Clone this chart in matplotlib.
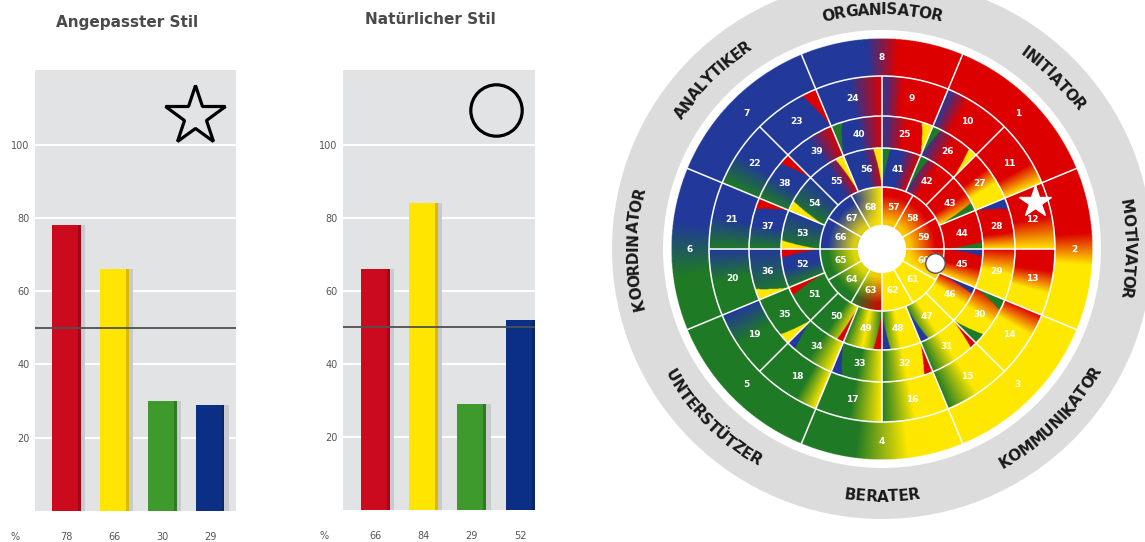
import matplotlib.pyplot as plt
import matplotlib.colors as mcolors
import numpy as np
from matplotlib.patches import Wedge, Circle
from matplotlib.transforms import blended_transform_factory

W, H = 1145, 542

# --- Balkendiagramme ---
bar_colors = ['#cc0a1e', '#ffe500', '#3e9a2c', '#0c2f86']
bar_dark = ['#a0081a', '#d8bb00', '#2f7a22', '#0a2668']
adapted_values = [78, 66, 30, 29]
natural_values = [66, 84, 29, 52]
y_ticks = [20, 40, 60, 80, 100]
mid_line = 50

# --- Insights-Rad ---
wheel_colors = {'R': '#dd0000', 'Y': '#ffe800', 'G': '#1f7a25', 'B': '#22399a'}
ring_radii = [24, 62, 101, 133, 173, 211]
ring_start = [90, 90, 90, 90, 112.5]          # Winkel, an dem das erste Segment beginnt (im Uhrzeigersinn)
inner_labels = list(range(57, 69))
ring4_labels = list(range(41, 57))
ring3_labels = list(range(25, 41))
ring2_labels = list(range(9, 25))
outer_labels = [8, 1, 2, 3, 4, 5, 6, 7]

# Farbverlauf je Segment, im Uhrzeigersinn gelesen
inner_colors = ['R', 'R', 'R', 'RY', 'Y', 'Y', 'RG', 'G', 'G', 'B', 'B', 'BY']
ring4_colors = ['BBR', 'BRR', 'RRY', 'RRR', 'RRY', 'RYY', 'YYG', 'YYG',
                'GYG', 'YGG', 'G', 'GBB', 'GB', 'GB', 'BBR', 'BBR']
ring3_colors = ['BRR', 'BRR', 'RRYY', 'RRRY', 'RYY', 'RYY', 'YYG', 'YYG',
                'YGG', 'YGG', 'GG', 'GB', 'GBB', 'GBB', 'BBR', 'BBR']
ring2_colors = ['BRRR', 'BRRR', 'RRRY', 'RRY', 'RRYY', 'RYYY', 'YYG', 'YYG',
                'YGG', 'YGGG', 'GGB', 'GGB', 'GBB', 'GBB', 'B', 'BBR']
outer_colors = ['BBBRRR', 'R', 'RRRYYY', 'Y', 'YYGG', 'G', 'GGBB', 'B']

# schmale Keile: (Segment, Seite 0=Anfang/1=Ende, Farbe, Breite in Grad aussen)
slivers = [(23, 1, 'R', 5),
           (25, 1, 'Y', 5), (26, 0, 'G', 4), (26, 1, 'Y', 4), (28, 0, 'B', 5),
           (30, 0, 'G', 5), (30, 1, 'G', 5), (31, 0, 'R', 3), (32, 0, 'R', 4),
           (33, 1, 'B', 5), (34, 1, 'B', 4), (35, 0, 'Y', 5), (36, 0, 'Y', 5),
           (37, 1, 'R', 5), (38, 1, 'R', 5), (40, 0, 'G', 5),
           (41, 0, 'G', 5), (42, 0, 'G', 5), (43, 1, 'G', 5), (44, 1, 'G', 4),
           (45, 0, 'B', 4), (46, 0, 'B', 4), (47, 1, 'B', 5), (48, 1, 'B', 5),
           (49, 0, 'R', 5), (50, 0, 'R', 4), (51, 1, 'R', 5), (52, 1, 'R', 5),
           (53, 0, 'Y', 5), (54, 0, 'Y', 6), (55, 1, 'Y', 5), (56, 1, 'Y', 5)]

type_names = ['ORGANISATOR', 'INITIATOR', 'MOTIVATOR', 'KOMMUNIKATOR',
              'BERATER', 'UNTERSTÜTZER', 'KOORDINATOR', 'ANALYTIKER']
type_angles = [90, 45, 0, -45, -90, -135, 180, 135]
type_radii = [239, 243, 247, 246, 248, 246, 249, 243]

# Positionen im Rad (Winkel, Radius)
adapted_pos = (17, 160)
natural_pos = (-15, 55)

fig = plt.figure(figsize=(W / 100, H / 100), dpi=100)


def bar_chart(rect, values, title, title_xy, symbol):
    ax = fig.add_axes(rect)
    ax.set_facecolor('#e2e3e5')
    x = np.arange(len(values))
    ax.bar(x + 0.09, values, 0.6, color='#c9cacd', zorder=2)
    ax.bar(x, values, 0.6, color=bar_colors, zorder=3)
    ax.bar(x + 0.27, values, 0.06, color=bar_dark, zorder=3)
    ax.axhline(mid_line, color='#505050', lw=1.3, zorder=4)
    ax.set_ylim(0, 120.4)
    ax.set_yticks(y_ticks)
    ax.set_xticks([])
    ax.yaxis.grid(True, color='white', lw=1.5)
    ax.set_axisbelow(True)
    ax.tick_params(axis='y', length=0, labelsize=7, labelcolor='#555555', pad=4)
    for s in ax.spines.values():
        s.set_visible(False)
    tr = blended_transform_factory(ax.transData, ax.transAxes)
    for xi, v in zip(x, values):
        ax.text(xi, -0.059, str(v), transform=tr, ha='center', va='center',
                fontsize=7, color='#555555')
    ax.text(-0.1, -0.059, '%', transform=ax.transAxes, ha='center', va='center',
            fontsize=7, color='#555555')
    fig.text(title_xy[0] / W, 1 - title_xy[1] / H, title, ha='center', va='center',
             fontsize=11, fontweight='bold', color='#4a4a4a')
    ax.plot([0.797], [0.895 if symbol == '*' else 0.91], marker=symbol, transform=ax.transAxes,
            ms=45 if symbol == '*' else 37, mfc='none', mec='black', mew=2.3,
            clip_on=False, zorder=5)
    return ax


ax1 = bar_chart([35 / W, (H - 511) / H, 201 / W, 441 / H], adapted_values,
                'Angepasster Stil', (127, 22), '*')
ax1.set_xlim(-0.65, 3.54)
ax2 = bar_chart([343 / W, (H - 510) / H, 192 / W, 440 / H], natural_values,
                'Natürlicher Stil', (430, 20), 'o')
ax2.set_xlim(-0.667, 3.31)

# --- Rad ---
cx, cy = 882, 249
axw = fig.add_axes([560 / W, 0, 585 / W, 1])
axw.set_xlim(560 - cx, W - cx)
axw.set_ylim(cy - H, cy)
axw.axis('off')

axw.add_patch(Wedge((0, 0), 270, 0, 360, width=51, fc='#dcdcdc', ec='none', zorder=1))

rings = [(ring_radii[0], ring_radii[1], ring_start[0], inner_labels, inner_colors),
         (ring_radii[1], ring_radii[2], ring_start[1], ring4_labels, ring4_colors),
         (ring_radii[2], ring_radii[3], ring_start[2], ring3_labels, ring3_colors),
         (ring_radii[3], ring_radii[4], ring_start[3], ring2_labels, ring2_colors),
         (ring_radii[4], ring_radii[5], ring_start[4], outer_labels, outer_colors)]


def rgb_of(c):
    return np.array(mcolors.to_rgb(wheel_colors[c]))


lim = ring_radii[-1]
n_px = 900
g = np.linspace(-lim, lim, n_px)
X, Y = np.meshgrid(g, g)
R = np.hypot(X, Y)
T = np.degrees(np.arctan2(Y, X))
img = np.ones((n_px, n_px, 3))

for r_in, r_out, start, labels, colors in rings:
    span = 360 / len(labels)
    in_ring = (R >= r_in) & (R < r_out)
    pos = ((start - T) % 360) / span
    idx = np.floor(pos).astype(int)
    frac = pos - idx
    for i, (lab, stops) in enumerate(zip(labels, colors)):
        m = in_ring & (idx == i)
        f = frac[m]
        cols = np.array([rgb_of(c) for c in stops])
        seg = np.empty((f.size, 3))
        if len(stops) == 1:
            seg[:] = cols[0]
        else:
            p = np.linspace(0, 1, len(stops))
            for ch in range(3):
                seg[:, ch] = np.interp(f, p, cols[:, ch])
        rr = R[m]
        for lab_s, side, c, wdeg in slivers:
            if lab_s != lab:
                continue
            wr = wdeg * (rr - r_in) / (r_out - r_in)
            d = f * span if side == 0 else (1 - f) * span
            seg[d < wr] = rgb_of(c)
        img[m] = seg

# gelber Schein um die Nabe
m_in = (R >= ring_radii[0]) & (R < ring_radii[1])
wgt = (np.clip((54 - R) / 26, 0, 1) * 0.85)[m_in][:, None]
img[m_in] = img[m_in] * (1 - wgt) + rgb_of('Y') * wgt

alpha = np.clip(lim - R + 0.5, 0, 1)
axw.imshow(np.dstack([img, alpha]), extent=(-lim, lim, -lim, lim), origin='lower',
           interpolation='bilinear', aspect='auto', zorder=2)

# weisse Trennlinien
for r in ring_radii[1:-1]:
    axw.add_patch(Circle((0, 0), r, fill=False, ec='white', lw=1.1, zorder=3))
for r_in, r_out, start, labels, colors in rings:
    span = 360 / len(labels)
    for k in range(len(labels)):
        a = np.radians(start - k * span)
        axw.plot([r_in * np.cos(a), r_out * np.cos(a)], [r_in * np.sin(a), r_out * np.sin(a)],
                 color='white', lw=1.1, zorder=3, solid_capstyle='butt')
    r_lab = (r_in + r_out) / 2
    for k, lab in enumerate(labels):
        a = np.radians(start - (k + 0.5) * span)
        axw.text(r_lab * np.cos(a), r_lab * np.sin(a), str(lab), ha='center', va='center',
                 fontsize=6.5, fontweight='bold', color='white', zorder=4)

axw.add_patch(Circle((0, 0), ring_radii[0], fc='white', ec='none', zorder=4))

# Typbezeichnungen auf dem grauen Ring
renderer = fig.canvas.get_renderer()


def arc_text(text, angle, radius):
    top = np.sin(np.radians(angle)) > -0.1
    arts, widths = [], []
    for ch in text:
        t = axw.text(0, 0, ch, ha='center', va='center', fontsize=11,
                     fontweight='bold', family='DejaVu Sans',
                     color='#1a1a1a', zorder=5)
        arts.append(t)
        widths.append(t.get_window_extent(renderer).width - 0.4)
    total = sum(widths)
    cum = 0
    for t, w in zip(arts, widths):
        off = np.degrees((cum + w / 2 - total / 2) / radius)
        a = angle - off if top else angle + off
        t.set_position((radius * np.cos(np.radians(a)), radius * np.sin(np.radians(a))))
        t.set_rotation(a - 90 if top else a + 90)
        t.set_rotation_mode('anchor')
        cum += w


for name, ang, rad in zip(type_names, type_angles, type_radii):
    arc_text(name, ang, rad)

# Stern und Kreis im Rad
for (ang, rad), mk, ms, mec in [(adapted_pos, '*', 24, 'white'), (natural_pos, 'o', 14, '#555555')]:
    axw.plot(rad * np.cos(np.radians(ang)), rad * np.sin(np.radians(ang)), marker=mk,
             ms=ms, mfc='white', mec=mec, mew=1, zorder=6)

fig.savefig('out.png', dpi=100)
